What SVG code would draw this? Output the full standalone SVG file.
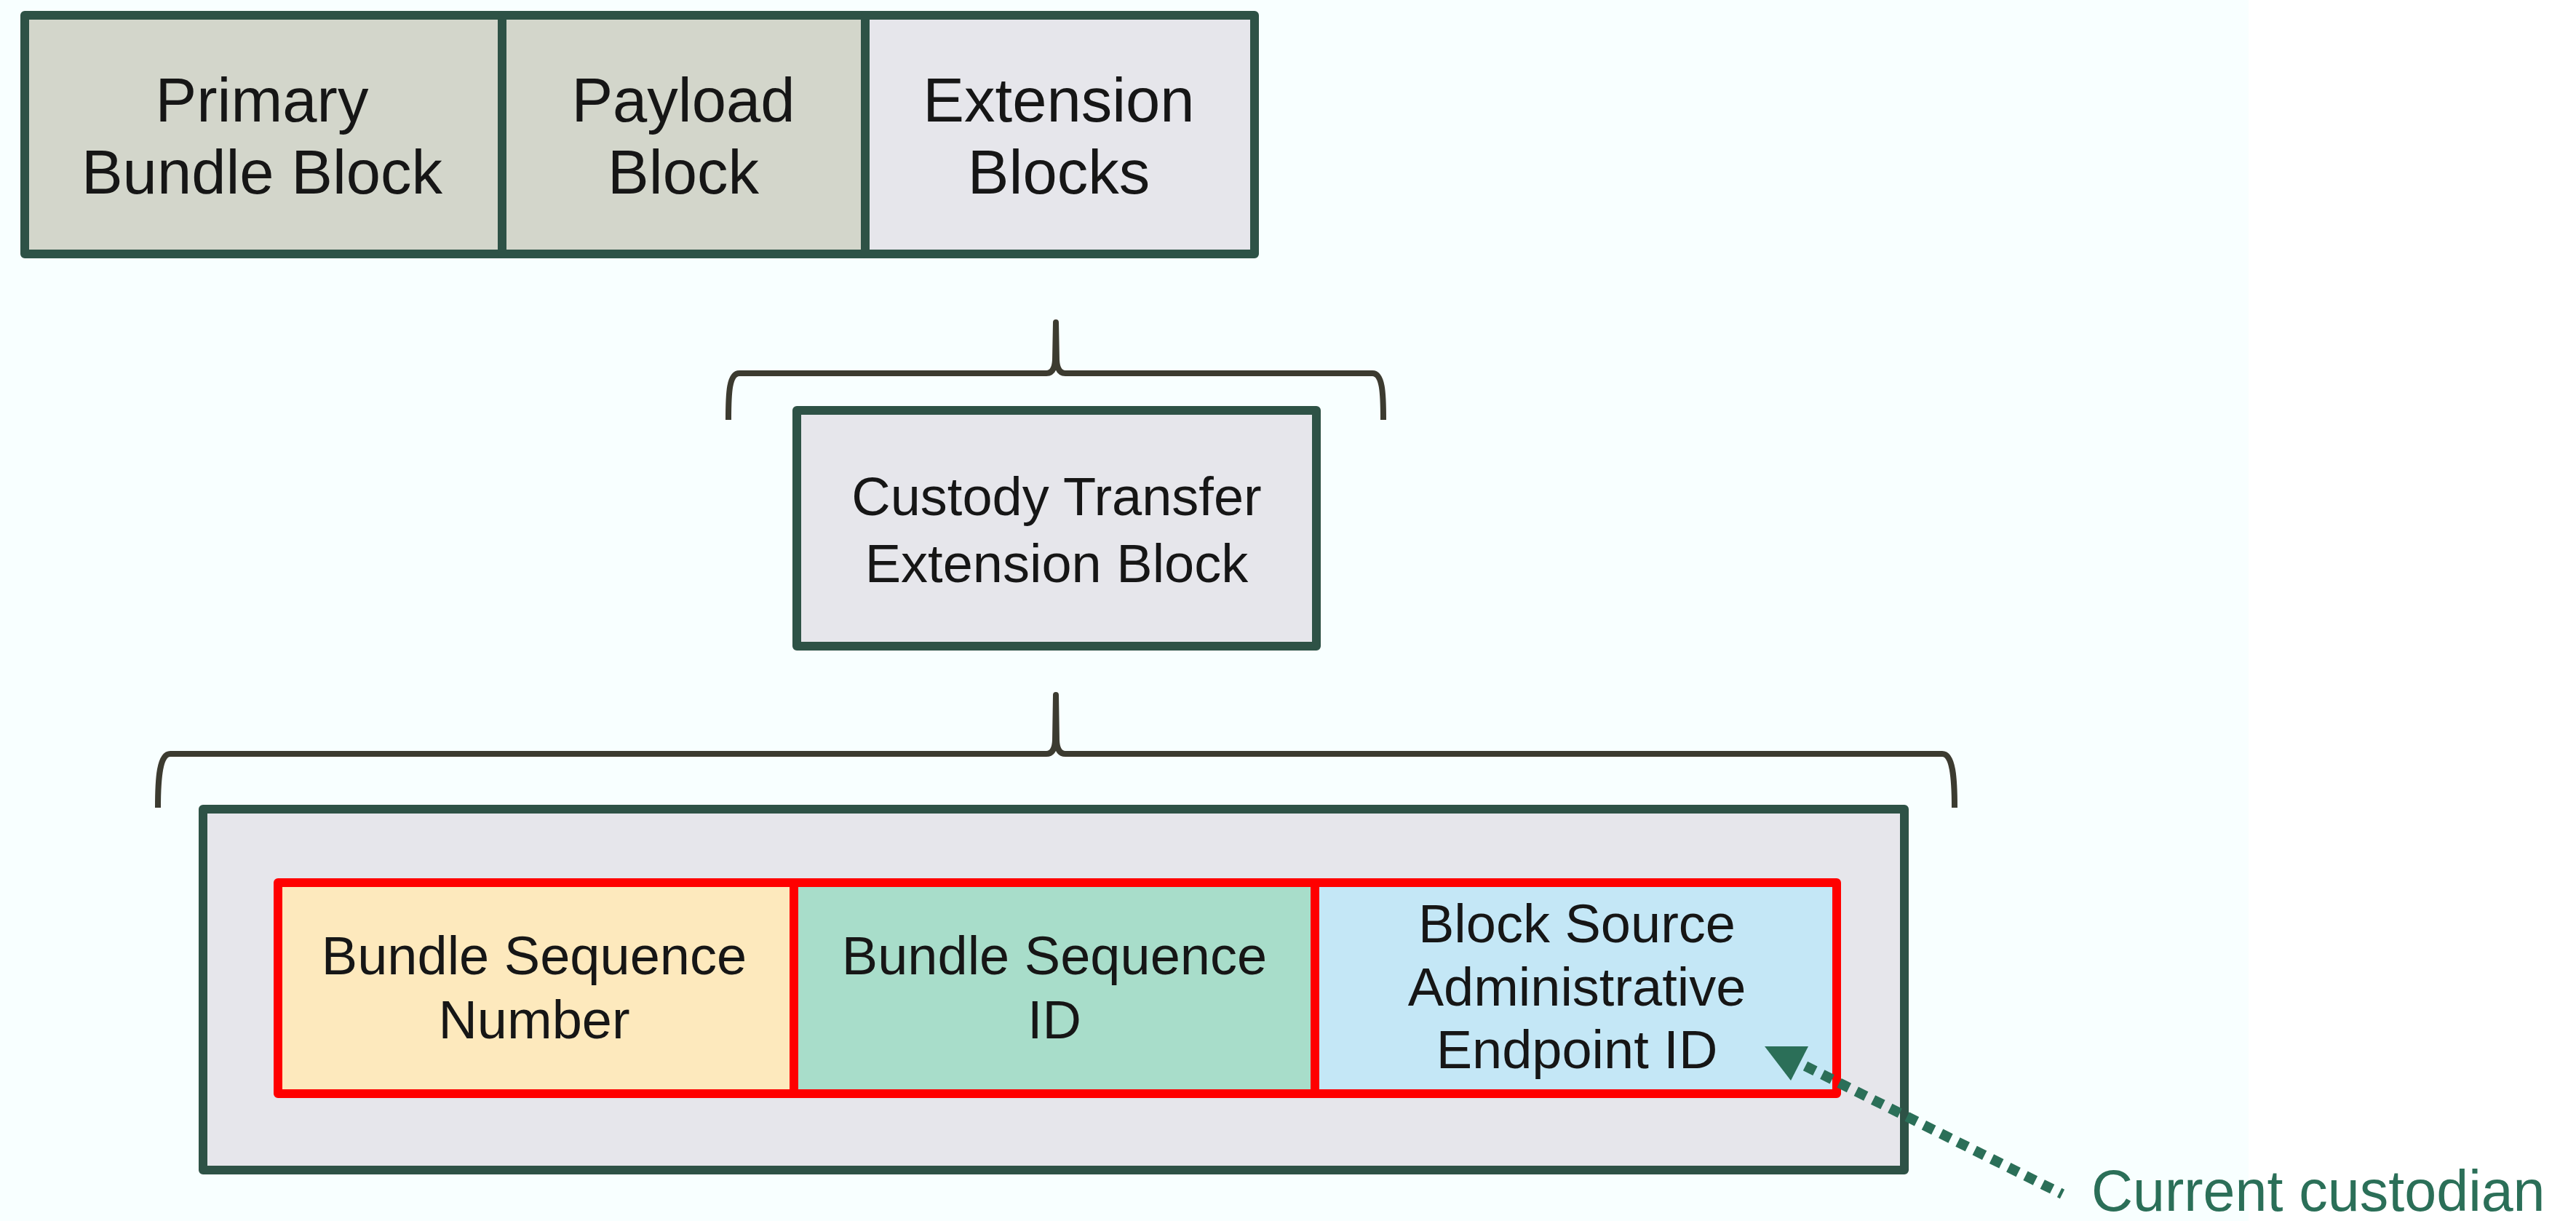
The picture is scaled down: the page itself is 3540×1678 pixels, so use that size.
<svg xmlns="http://www.w3.org/2000/svg" width="3540" height="1678" viewBox="0 0 3540 1678">
<style>
.box{stroke:#2e5246;stroke-width:12;stroke-linejoin:round}
.cell{stroke:#ff0000;stroke-width:12;stroke-linejoin:round}
.t{font-family:"Liberation Sans",Arial,Helvetica,sans-serif;fill:#161616;text-anchor:middle}
.brace{fill:none;stroke:#3c3b30;stroke-width:8;stroke-linejoin:round;stroke-linecap:butt}
</style>
<rect x="0" y="0" width="3540" height="1678" fill="#ffffff"/>
<rect x="0" y="0" width="3090" height="1678" fill="#f8ffff"/>

<g id="primary-bundle-block">
<rect class="box" x="34" y="21" width="656" height="328" fill="#d3d6cb"/>
<text class="t" font-size="85" x="360" y="167">Primary</text>
<text class="t" font-size="85" x="360" y="266">Bundle Block</text>
</g>
<g id="payload-block">
<rect class="box" x="690" y="21" width="499" height="328" fill="#d3d6cb"/>
<text class="t" font-size="85" x="939" y="167">Payload</text>
<text class="t" font-size="85" x="939" y="266">Block</text>
</g>
<g id="extension-blocks">
<rect class="box" x="1189" y="21" width="535" height="328" fill="#e6e6eb"/>
<text class="t" font-size="85" x="1455" y="167">Extension</text>
<text class="t" font-size="85" x="1455" y="266">Blocks</text>
</g>

<g id="custody-transfer-extension-block">
<rect class="box" x="1095" y="564" width="714" height="324" fill="#e6e6eb"/>
<text class="t" font-size="74" x="1452" y="708">Custody Transfer</text>
<text class="t" font-size="74" x="1452" y="800">Extension Block</text>
</g>

<g id="cte-fields">
<rect class="box" x="279" y="1112" width="2338" height="496" fill="#e6e6eb"/>
</g>
<g id="bundle-sequence-number">
<rect class="cell" x="382" y="1213" width="709" height="290" fill="#fde9bd" stroke="#e3141b"/>
<text class="t" font-size="74" x="734" y="1339">Bundle Sequence</text>
<text class="t" font-size="74" x="734" y="1427">Number</text>
</g>
<g id="bundle-sequence-id">
<rect class="cell" x="1091" y="1213" width="716" height="290" fill="#a8ddca"/>
<text class="t" font-size="74" x="1449" y="1339">Bundle Sequence</text>
<text class="t" font-size="74" x="1449" y="1427">ID</text>
</g>
<g id="block-source-admin-eid">
<rect class="cell" x="1807" y="1213" width="717" height="290" fill="#c4e7f6"/>
<text class="t" font-size="74" x="2167" y="1295">Block Source</text>
<text class="t" font-size="74" x="2167" y="1382">Administrative</text>
<text class="t" font-size="74" x="2167" y="1468">Endpoint ID</text>
</g>

<g id="current-custodian">
<text font-family="'Liberation Sans',Arial,Helvetica,sans-serif" font-size="79" fill="#2b6f58" x="2874" y="1664">Current custodian</text>
</g>

<g id="connectors">
<path class="brace" d="M1001,577 C1001,540 1002,513 1016,513 L1438,513 Q1449,513 1450,495 L1451,443 L1452,495 Q1453,513 1464,513 L1886,513 C1900,513 1901,540 1901,577"/>
<path class="brace" d="M217,1110 C217,1070 219,1036 234,1036 L1438,1036 Q1449,1036 1450,1018 L1451,955 L1452,1018 Q1453,1036 1464,1036 L2669,1036 C2684,1036 2686,1070 2686,1110"/>
<path d="M2481,1465 L2834,1641" fill="none" stroke="#2b6f58" stroke-width="14" stroke-dasharray="15 11"/>
<polygon points="2425,1438 2485,1438 2461,1485" fill="#2b6f58"/>
</g>
</svg>
